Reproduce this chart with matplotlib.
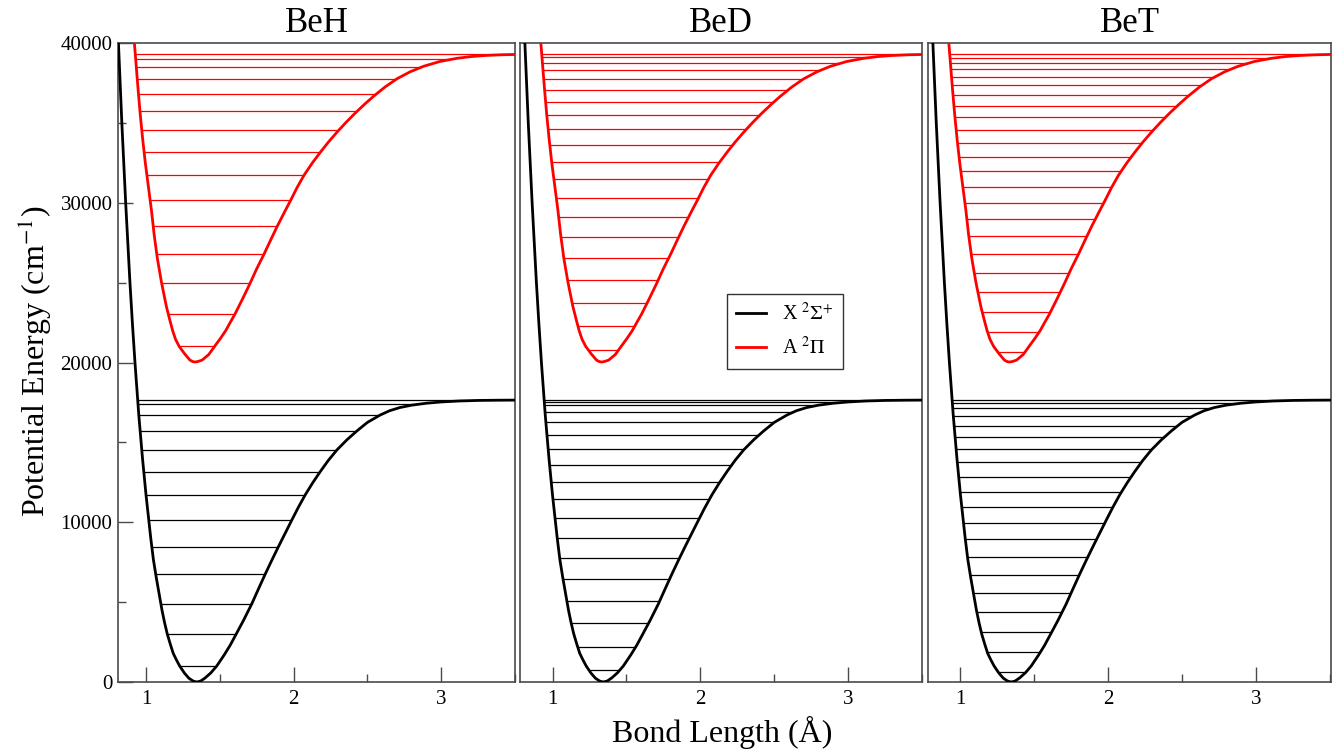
import matplotlib
matplotlib.use("Agg")
import matplotlib.pyplot as plt
from matplotlib.patches import Polygon
from matplotlib.ticker import MultipleLocator

plt.rcParams["font.family"] = ["Liberation Serif", "DejaVu Serif"]
plt.rcParams["mathtext.fontset"] = "stix"

# potential curves (same for all isotopologues)
x_state_r = [0.79, 0.813, 0.836, 0.862, 0.891, 0.908, 0.925, 0.951, 0.976, 1.000,
             1.032, 1.05, 1.070, 1.09, 1.108, 1.126, 1.144, 1.165, 1.184, 1.206,
             1.228, 1.26, 1.29, 1.32, 1.344, 1.37, 1.40, 1.44, 1.479, 1.53,
             1.57, 1.61, 1.66, 1.716, 1.76, 1.807, 1.85, 1.897, 1.94, 1.988,
             2.03, 2.078, 2.13, 2.18, 2.235, 2.293, 2.36, 2.428, 2.50, 2.586,
             2.65, 2.72, 2.80, 2.90, 3.00, 3.12, 3.25, 3.40, 3.55]
x_state_e = [42500, 40000, 35000, 30000, 25000, 22400, 20000, 16700, 14000, 11700,
             9000, 7650, 6500, 5450, 4500, 3700, 3000, 2350, 1800, 1380,
             1000, 560, 240, 55, 0, 60, 250, 580, 1000, 1700,
             2300, 2986, 3850, 4883, 5790, 6742, 7580, 8470, 9260, 10141,
             10900, 11706, 12480, 13165, 13870, 14523, 15150, 15710, 16250, 16710,
             16980, 17180, 17330, 17450, 17530, 17590, 17625, 17640, 17648]

a_state_r = [0.912, 0.921, 0.934, 0.947, 0.961, 0.977, 0.995, 1.016, 1.037, 1.055,
             1.077, 1.105, 1.138, 1.16, 1.18, 1.20, 1.225, 1.262, 1.297, 1.315,
             1.332, 1.35, 1.38, 1.425, 1.468, 1.505, 1.54, 1.57, 1.603, 1.655,
             1.705, 1.75, 1.80, 1.845, 1.89, 1.935, 1.981, 2.025, 2.071, 2.125,
             2.18, 2.235, 2.293, 2.355, 2.417, 2.48, 2.541, 2.62, 2.70, 2.79,
             2.88, 2.99, 3.106, 3.20, 3.30, 3.42, 3.55]
a_state_e = [41000, 40000, 38500, 37000, 35500, 34000, 32500, 31000, 29500, 28000,
             26500, 25000, 23500, 22700, 22000, 21450, 21000, 20540, 20155, 20060,
             20030, 20058, 20150, 20500, 21053, 21520, 22000, 22500, 23037, 24000,
             24958, 25870, 26793, 27680, 28546, 29360, 30173, 30980, 31730, 32470,
             33150, 33790, 34410, 35030, 35610, 36160, 36660, 37250, 37760, 38200,
             38540, 38840, 39040, 39150, 39220, 39265, 39290]

# vibrational levels (cm-1)
beh_x_levels = [1002, 2986, 4883, 6742, 8470, 10141, 11706, 13165, 14523, 15712,
                16714, 17403, 17655]
bed_x_levels = [751, 2210, 3670, 5070, 6430, 7745, 9030, 10280, 11440, 12520,
                13560, 14560, 15470, 16260, 16920, 17340, 17510, 17655]
bet_x_levels = [645, 1897, 3149, 4363, 5552, 6698, 7843, 8933, 9972, 10974,
                11913, 12852, 13752, 14586, 15355, 16044, 16670, 17171, 17484, 17655]

beh_a_levels = [21053, 23037, 24958, 26793, 28546, 30173, 31757, 33197, 34536, 35726,
                36790, 37728, 38480, 39000, 39310]
bed_a_levels = [20783, 22286, 23744, 25165, 26523, 27838, 29090, 30317, 31469, 32570,
                33616, 34599, 35494, 36327, 37078, 37748, 38311, 38769, 39107, 39310]
bet_a_levels = [20639, 21930, 23190, 24420, 25615, 26775, 27895, 28975, 30015, 31015,
                31975, 32890, 33760, 34585, 35360, 36080, 36745, 37350, 37890, 38360,
                38750, 39060, 39310]

molecules = ["BeH", "BeD", "BeT"]
x_levels = [beh_x_levels, bed_x_levels, bet_x_levels]
a_levels = [beh_a_levels, bed_a_levels, bet_a_levels]
xlims = [(0.81, 3.5), (0.78, 3.5), (0.78, 3.51)]

W, H = 1335, 753
fig = plt.figure(figsize=(W / 100, H / 100), dpi=100)
panels_px = [(118, 515), (520, 922), (928, 1331)]
top_px, bot_px = 43, 682

frame_col = "#4a4a4a"


def well_region(ax, r, e):
    # area above the curve, used to cut the level lines at the turning points
    verts = list(zip(r, e)) + [(r[-1], 60000), (r[0], 60000)]
    return Polygon(verts, closed=True, transform=ax.transData)


for i, (name, xl, al) in enumerate(zip(molecules, x_levels, a_levels)):
    x0, x1 = panels_px[i]
    ax = fig.add_axes([x0 / W, 1 - bot_px / H, (x1 - x0) / W, (bot_px - top_px) / H])

    lc = ax.hlines(xl, 0.6, 3.7, colors="black", linewidth=0.9, zorder=2)
    lc.set_clip_path(well_region(ax, x_state_r, x_state_e))
    lc = ax.hlines(al, 0.6, 3.7, colors="red", linewidth=0.9, zorder=2)
    lc.set_clip_path(well_region(ax, a_state_r, a_state_e))

    ax.plot(x_state_r, x_state_e, color="black", linewidth=2.0, zorder=3,
            solid_joinstyle="round", label=r"X $^{2}\Sigma^{+}$")
    ax.plot(a_state_r, a_state_e, color="red", linewidth=2.0, zorder=3,
            solid_joinstyle="round", label=r"A $^{2}\Pi$")

    ax.set_xlim(*xlims[i])
    ax.set_ylim(0, 40000)
    ax.set_xticks([1, 2, 3])
    ax.xaxis.set_minor_locator(MultipleLocator(0.5))
    ax.set_yticks([0, 10000, 20000, 30000, 40000])
    ax.yaxis.set_minor_locator(MultipleLocator(5000))
    ax.tick_params(which="both", direction="in", colors=frame_col, labelcolor="black",
                   top=False, right=False, labelsize=15)
    ax.tick_params(which="major", length=11, width=1.0)
    ax.tick_params(which="minor", length=5.5, width=1.0)
    ax.tick_params(axis="x", pad=6)
    ax.tick_params(axis="y", pad=4)
    if i > 0:
        ax.tick_params(axis="y", which="both", left=False, labelleft=False)
    for sp in ax.spines.values():
        sp.set_color(frame_col)
        sp.set_linewidth(1.2)
    ax.set_title(name, fontsize=25, pad=8)

    if i == 1:
        leg = ax.legend(loc="upper left", bbox_to_anchor=(0.514, 0.607),
                        borderaxespad=0, fontsize=14.5, frameon=True, fancybox=False,
                        handlelength=1.5, handletextpad=0.8, borderpad=0.45,
                        labelspacing=0.6)
        leg.get_frame().set_edgecolor("black")
        leg.get_frame().set_linewidth(1.0)

fig.text(0.026, 0.52, r"Potential Energy (cm$^{-1}$)", rotation=90,
         ha="center", va="center", fontsize=23)
fig.text(0.541, 0.027, "Bond Length (Å)", ha="center", va="center", fontsize=23)

fig.savefig("out.png", dpi=100, facecolor="white")
